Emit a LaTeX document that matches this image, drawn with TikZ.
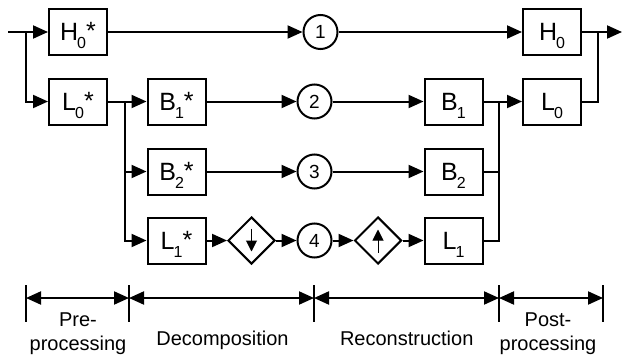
\documentclass[tikz,border=0pt]{standalone}
\usepackage{fontspec}
\setmainfont{Liberation Sans}
\usetikzlibrary{arrows.meta,shapes.geometric}
\newcommand\blk[3]{\fontsize{25}{25}\selectfont #1\kern-1pt\raisebox{-8pt}[0pt][0pt]{\fontsize{16}{16}\selectfont #2}\raisebox{1pt}[0pt][0pt]{#3}}
\tikzset{
 ln/.style={line width=2pt},
 arr/.style={ln, -{Triangle[length=15pt,width=13pt]}},
 box/.style={draw, ln, minimum width=58pt, minimum height=46pt, inner sep=0pt},
 circ/.style={circle, draw, ln, minimum size=34pt, inner sep=0pt, font=\fontsize{19}{19}\selectfont},
 dia/.style={diamond, draw, ln, minimum width=47pt, minimum height=47pt, inner sep=0pt},
 dim/.style={ln, {Triangle[length=15pt,width=13pt]}-{Triangle[length=15pt,width=13pt]}},
 small/.style={line width=1pt, -{Triangle[length=11pt,width=11pt]}},
 lab/.style={font=\fontsize{20}{24}\selectfont, anchor=base, inner sep=0pt}
}
\begin{document}
\begin{tikzpicture}[x=1pt,y=-1pt]
\useasboundingbox (0,0) rectangle (622,356);
% nodes
\node[box] (H0s) at (78,32) {\blk{H}{0}{*}};
\node[box] (L0s) at (78,101.5) {\blk{L}{0}{*}};
\node[box] (B1s) at (176.5,101.5) {\blk{B}{1}{*}};
\node[box] (B2s) at (176.5,171.5) {\blk{B}{2}{*}};
\node[box] (L1s) at (176.5,240.5) {\blk{L}{1}{*}};
\node[dia] (dd) at (251.5,240.5) {};
\node[circ] (c1) at (320.5,32) {1};
\node[circ] (c2) at (314.5,101.5) {2};
\node[circ] (c3) at (314.5,171.5) {3};
\node[circ] (c4) at (314.5,240.5) {4};
\node[dia] (du) at (378,240.5) {};
\node[box] (H0) at (552,32) {\blk{H}{0}{}};
\node[box] (L0) at (552,101.5) {\blk{L}{0}{}};
\node[box] (B1) at (453.5,101.5) {\blk{B}{1}{}};
\node[box] (B2) at (453.5,171.5) {\blk{B}{2}{}};
\node[box] (L1) at (453.5,240.5) {\blk{L}{1}{}};
% diamond symbols
\draw[small] ([yshift=12pt]dd.center) -- ([yshift=-11pt]dd.center);
\draw[small] ([yshift=-12pt]du.center) -- ([yshift=11pt]du.center);
% coordinates
\coordinate (in) at (8,32);
\coordinate (j0) at (26,32);
\coordinate (j1) at (124.5,101.5);
\coordinate (j2) at (499.3,101.5);
\coordinate (j3) at (597.7,32);
\coordinate (out) at (622,32);
% connectors
\draw[arr] (in) -- (H0s.west);
\draw[arr] (j0) |- (L0s.west);
\draw[arr] (H0s) -- (c1);
\draw[ln] (L0s.east) -- (j1);
\draw[arr] (j1) -- (B1s.west);
\draw[arr] (j1) |- (B2s.west);
\draw[arr] (j1) |- (L1s.west);
\draw[arr] (B1s) -- (c2);
\draw[arr] (B2s) -- (c3);
\draw[arr] (L1s) -- (dd);
\draw[arr] (dd) -- (c4);
\draw[arr] (c4) -- (du);
\draw[arr] (du) -- (L1);
\draw[arr] (c2) -- (B1);
\draw[arr] (c3) -- (B2);
\draw[arr] (c1) -- (H0);
\draw[ln] (B1.east) -- (j2);
\draw[ln] (B2.east) -| (j2);
\draw[ln] (L1.east) -| (j2);
\draw[arr] (j2) -- (L0.west);
\draw[ln] (L0.east) -| (j3);
\draw[arr] (H0.east) -- (out);
% dimension ticks
\foreach \n/\x in {a/26,b/129,c/314,d/499,e/603}{
  \coordinate (t\n1) at (\x,285);
  \coordinate (t\n2) at (\x,322);
  \coordinate (m\n) at (\x,298);
  \draw[ln] (t\n1) -- (t\n2);
}
\draw[dim] (ma) -- (mb);
\draw[dim] (mb) -- (mc);
\draw[dim] (mc) -- (md);
\draw[dim] (md) -- (me);
% labels
\node[lab] (pre1) at (78,326) {Pre-};
\node[lab] (pre2) at (78,350) {processing};
\node[lab] (dec) at (222.5,345) {Decomposition};
\node[lab] (rec) at (406.7,345) {Reconstruction};
\node[lab] (post1) at (548,326) {Post-};
\node[lab] (post2) at (548,350) {processing};
\end{tikzpicture}
\end{document}
